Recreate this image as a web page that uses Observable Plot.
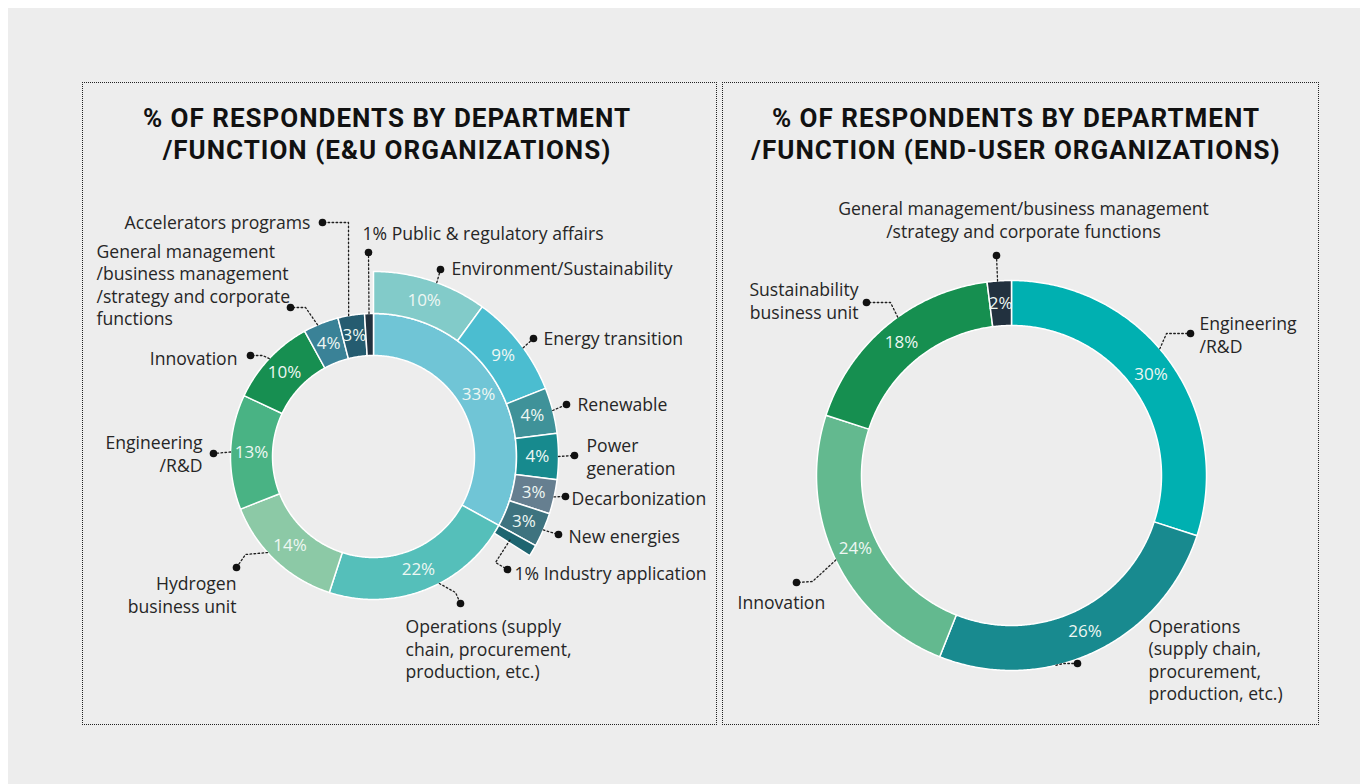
<!DOCTYPE html>
<html><head><meta charset="utf-8">
<script src="https://cdn.jsdelivr.net/npm/d3@7"></script>
<script src="https://cdn.jsdelivr.net/npm/@observablehq/plot@0.6"></script>
<style>
html,body{margin:0;padding:0;background:#fff;width:1360px;height:784px;overflow:hidden;font-family:"Open Sans",sans-serif;}
#bg{position:absolute;left:8px;top:8px;width:1352px;height:776px;background:#ededed;}
.panel{position:absolute;top:82px;height:643px;border:1.5px dotted #222;box-sizing:border-box;}
.title{position:absolute;width:640px;text-align:center;font-family:Roboto,sans-serif;font-weight:700;font-size:26px;line-height:32px;color:#111;letter-spacing:1px;white-space:nowrap;}
.chart{position:absolute;top:182px;}
</style></head><body>
<div id="bg"></div>
<div class="panel" style="left:82px;width:635px"></div>
<div class="panel" style="left:722px;width:597px"></div>
<div class="title" style="left:67px;top:102px">% OF RESPONDENTS BY DEPARTMENT</div>
<div class="title" style="left:67px;top:134px">/FUNCTION (E&amp;U ORGANIZATIONS)</div>
<div class="title" style="left:696px;top:102px">% OF RESPONDENTS BY DEPARTMENT</div>
<div class="title" style="left:696px;top:134px">/FUNCTION (END-USER ORGANIZATIONS)</div>
<div class="chart" id="c1" style="left:82px"></div>
<div class="chart" id="c2" style="left:722px"></div>
<script>
// ---------- DATA ----------
// E&U organizations: inner ring (first slice is the total of the outer ring breakdown)
const euMainCategories = [
  "Business functions (outer ring breakdown)",
  "Operations (supply\nchain, procurement,\nproduction, etc.)",
  "Hydrogen\nbusiness unit",
  "Engineering\n/R&D",
  "Innovation",
  "General management\n/business management\n/strategy and corporate\nfunctions",
  "Accelerators programs",
  "Public & regulatory affairs"
];
const euMainValues = [33, 22, 14, 13, 10, 4, 3, 1];
// E&U organizations: outer ring breakdown of the first slice
const euSubCategories = [
  "Environment/Sustainability",
  "Energy transition",
  "Renewable",
  "Power\ngeneration",
  "Decarbonization",
  "New energies",
  "Industry application"
];
const euSubValues = [10, 9, 4, 4, 3, 3, 1];
// End-user organizations
const endCategories = [
  "Engineering\n/R&D",
  "Operations\n(supply chain,\nprocurement,\nproduction, etc.)",
  "Innovation",
  "Sustainability\nbusiness unit",
  "General management/business management\n/strategy and corporate functions"
];
const endValues = [30, 26, 24, 18, 2];

// ---------- STYLES ----------
const euMainColors = ["#70c5d6", "#55bfba", "#8cc9a6", "#49b384", "#178f51", "#3a8297", "#255c70", "#22323f"];
const euSubColors = ["#82cbc9", "#4bbdd0", "#3f9299", "#178a8e", "#667f90", "#3e737f", "#1e6570"];
const endColors = ["#00b0b1", "#188a8f", "#63b98f", "#168f50", "#22313f"];

// ---------- LAYOUT (callouts, px relative to donut centre) ----------
const euCallouts = [
  {ring: "main", i: 6, at: 350, elbow: [-25, -234], dot: [-51, -234], text: [-63, -235], anchor: "end"},
  {ring: "main", i: 7, dot: [-5, -204], text: [-11, -224], anchor: "start", pct: true},
  {ring: "main", i: 5, at: 337, elbow: [-68, -149], dot: [-83, -149], text: [-277, -172], anchor: "start"},
  {ring: "main", i: 4, elbow: [-111, -101], dot: [-123, -101], text: [-136, -99], anchor: "end"},
  {ring: "main", i: 3, dot: [-160, -3], text: [-171, -3], anchor: "end"},
  {ring: "main", i: 2, at: 227.8, elbow: [-128, 98], dot: [-137, 111], text: [-137, 138], anchor: "end"},
  {ring: "main", i: 1, at: 152.6, elbow: [82, 136], dot: [87, 147], text: [32, 192], anchor: "start"},
  {ring: "sub", i: 0, at: 20, dot: [67, -187], text: [78, -189], anchor: "start"},
  {ring: "sub", i: 1, at: 54, dot: [160, -118], text: [170, -119], anchor: "start"},
  {ring: "sub", i: 2, dot: [193, -52], text: [204, -53], anchor: "start"},
  {ring: "sub", i: 3, dot: [201, -1], text: [213, 0], anchor: "start"},
  {ring: "sub", i: 4, dot: [192, 40], text: [198, 41], anchor: "start"},
  {ring: "sub", i: 5, dot: [185, 78], text: [195, 79], anchor: "start"},
  {ring: "sub", i: 6, at: 121.5, r: 160, elbow: [122, 106], dot: [134, 113], text: [141, 116], anchor: "start", pct: true}
];
const endCallouts = [
  {ring: "main", i: 0, at: 49.5, elbow: [155, -142], dot: [179, -142], text: [188, -141], anchor: "start"},
  {ring: "main", i: 1, at: 166.8, elbow: [52, 188], dot: [66, 188], text: [137, 184], anchor: "start"},
  {ring: "main", i: 2, at: 244.3, elbow: [-199, 106], dot: [-215, 107], text: [-274, 126], anchor: "start"},
  {ring: "main", i: 3, at: 324.3, elbow: [-121, -173], dot: [-145, -173], text: [-153, -175], anchor: "end"},
  {ring: "main", i: 4, at: 355.9, dot: [-15, -220], text: [12, -256], anchor: "middle"}
];

// ---------- GEOMETRY HELPERS ----------
const rad = a => a * Math.PI / 180;
const px = (r, a) => r * Math.sin(rad(a));
const py = (r, a) => -r * Math.cos(rad(a));

function makeArcs(key, cats, vals, cols, total, rIn, rOut) {
  let cum = 0;
  return vals.map((v, i) => {
    const a0 = cum / total * 360; cum += v; const a1 = cum / total * 360;
    return {id: key + i, i, label: cats[i], value: v, color: cols[i], a0, a1, mid: (a0 + a1) / 2, rIn, rOut};
  });
}
function polygons(arcs) {
  const pts = [];
  for (const d of arcs) {
    const n = Math.max(2, Math.ceil((d.a1 - d.a0) / 0.5));
    for (let k = 0; k <= n; k++) { const a = d.a0 + (d.a1 - d.a0) * k / n; pts.push({id: d.id, color: d.color, x: px(d.rOut, a), y: py(d.rOut, a)}); }
    for (let k = n; k >= 0; k--) { const a = d.a0 + (d.a1 - d.a0) * k / n; pts.push({id: d.id, color: d.color, x: px(d.rIn, a), y: py(d.rIn, a)}); }
  }
  return pts;
}
function calloutData(callouts, rings) {
  const leaders = [], items = [];
  callouts.forEach((c, k) => {
    const arc = rings[c.ring][c.i];
    const a = c.at ?? arc.mid;
    const r = c.r ?? arc.rOut;
    const path = [[px(r, a), py(r, a)]];
    if (c.elbow) path.push(c.elbow);
    path.push(c.dot);
    path.forEach(p => leaders.push({id: "L" + k, x: p[0], y: p[1]}));
    const label = (c.pct ? arc.value + "% " : "") + arc.label;
    items.push({x: c.dot[0], y: c.dot[1], tx: c.text[0], ty: c.text[1], anchor: c.anchor, label});
  });
  return {leaders, items};
}

function donut({rings, slices, pctArcs, callouts, width, height, cx, cy}) {
  const {leaders, items} = calloutData(callouts, rings);
  const textMark = anchor => Plot.text(items.filter(d => d.anchor === anchor), {
    x: "tx", y: "ty", text: "label", textAnchor: anchor, lineAnchor: "middle",
    fontSize: 17.6, lineHeight: 1.27, fill: "#262626"
  });
  return Plot.plot({
    width, height, margin: 0,
    style: {background: "transparent", fontFamily: "Open Sans, sans-serif", overflow: "visible"},
    x: {domain: [-cx, width - cx], range: [0, width], axis: null},
    y: {domain: [-cy, height - cy], range: [0, height], axis: null},
    color: {type: "identity"},
    marks: [
      Plot.line(polygons(slices), {x: "x", y: "y", z: "id", fill: "color", stroke: "#ffffff", strokeWidth: 1.5, curve: "linear-closed"}),
      Plot.text(pctArcs, {
        x: d => px((d.rIn + d.rOut) / 2, d.mid), y: d => py((d.rIn + d.rOut) / 2, d.mid),
        text: d => d.value + "%", fill: "#eef7f3", fontSize: 17
      }),
      Plot.line(leaders, {x: "x", y: "y", z: "id", stroke: "#1e1e1e", strokeWidth: 1.3, strokeDasharray: "1.6,2.4"}),
      Plot.dot(items, {x: "x", y: "y", r: 3.8, fill: "#111", stroke: "none"}),
      textMark("start"), textMark("end"), textMark("middle")
    ]
  });
}

// ---------- LEFT ----------
const euTotal = d3.sum(euMainValues);
const euMain = makeArcs("m", euMainCategories, euMainValues, euMainColors, euTotal, 101, 143);
const euSub = makeArcs("s", euSubCategories, euSubValues, euSubColors, euTotal, 143, 185);
document.getElementById("c1").appendChild(donut({
  rings: {main: euMain, sub: euSub},
  slices: [...euMain, ...euSub],
  pctArcs: [...euMain, ...euSub].filter(d => d.value >= 2),
  callouts: euCallouts, width: 634, height: 542, cx: 291, cy: 274
}));

// ---------- RIGHT ----------
const endTotal = d3.sum(endValues);
const endMain = makeArcs("e", endCategories, endValues, endColors, endTotal, 150, 195);
document.getElementById("c2").appendChild(donut({
  rings: {main: endMain},
  slices: endMain,
  pctArcs: endMain,
  callouts: endCallouts, width: 596, height: 542, cx: 289, cy: 293
}));
</script>
</body></html>
